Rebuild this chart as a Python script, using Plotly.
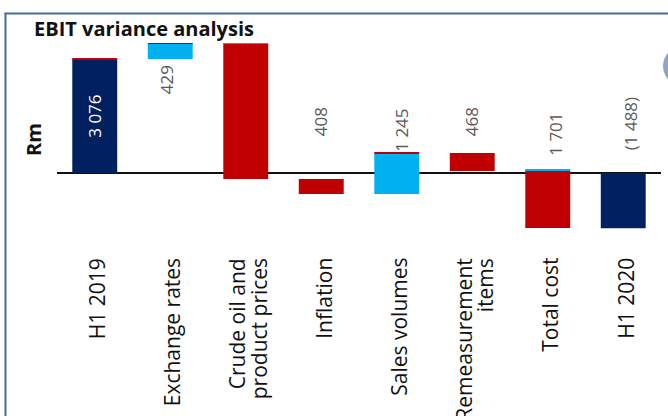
import plotly.graph_objects as go

# ---- data ----
categories = ["H1 2019", "Exchange rates", "Crude oil and product prices", "Inflation",
              "Sales volumes", "Remeasurement items", "Total cost", "H1 2020"]
category_lines = [["H1 2019"], ["Exchange rates"], ["Crude oil and", "product prices"], ["Inflation"],
                  ["Sales volumes"], ["Remeasurement", "items"], ["Total cost"], ["H1 2020"]]
bar_from = [0, 3076, 3505, -162, -570, 540, 81, 0]
bar_to = [3076, 3505, -162, -570, 540, 54, -1484, -1488]
bar_colors = ["#002060", "#00B0F0", "#C00000", "#C00000", "#00B0F0", "#C00000", "#C00000", "#002060"]
label_text = ["3 076", "429", "408", "1 245", "468", "1 701", "(1 488)"]
label_cat = [0, 1, 3, 4, 5, 6, 7]
label_y = [1538, 2509, 1376, 1160, 1376, 1052, 1322]
label_xshift = [0, -4, 0, 4, 0, 7, 8]
label_color = ["white", "#595959", "#595959", "#595959", "#595959", "#595959", "#595959"]
# thin edge slivers seen at some bar tops
sliver_cat = [0, 1, 2, 4, 6]
sliver_color = ["#C00000", "#C00000", "#00B0F0", "#C00000", "#00B0F0"]
sliver_h = 22

W, H = 668, 416
ML, MR, MT, MB = 57, 7, 20, 166
PW, PH = W - ML - MR, H - MT - MB

def px(x):
    return (x - ML) / PW

def py(y):
    return 1 - (y - MT) / PH

bases = [min(a, b) for a, b in zip(bar_from, bar_to)]
heights = [abs(b - a) for a, b in zip(bar_from, bar_to)]

fig = go.Figure()
fig.add_trace(go.Bar(x=categories, y=heights, base=bases, marker_color=bar_colors,
                     marker_line_width=0, hoverinfo="skip"))
s_tops = [max(bar_from[i], bar_to[i]) for i in sliver_cat]
fig.add_trace(go.Bar(x=[categories[i] for i in sliver_cat], y=[sliver_h] * len(sliver_cat),
                     base=[t - sliver_h for t in s_tops], marker_color=sliver_color,
                     marker_line_width=0, hoverinfo="skip"))

for t, c, yv, xs, col in zip(label_text, label_cat, label_y, label_xshift, label_color):
    fig.add_annotation(x=categories[c], y=yv, text=t, showarrow=False, textangle=-90,
                       xshift=xs, font=dict(family="Open Sans", size=17, color=col))

# category labels (rotated, top-aligned just under the plot)
line_gap = 22
for cat, lines in zip(categories, category_lines):
    n = len(lines)
    for k, ln in enumerate(lines):
        shift = 2 + (k - (n - 1) / 2) * line_gap
        fig.add_annotation(x=cat, xref="x", yref="paper", y=py(256), yanchor="top",
                           xanchor="center", text=ln, textangle=-90, showarrow=False,
                           xshift=shift, font=dict(family="Open Sans", size=21, color="#111111"))

fig.add_annotation(xref="paper", yref="paper", x=px(32), y=py(13), xanchor="left", yanchor="top",
                   text="<b>EBIT variance analysis</b>", showarrow=False,
                   font=dict(family="Open Sans", size=20, color="#111111"))
fig.add_annotation(xref="paper", yref="paper", x=px(33), y=py(140), xanchor="center", yanchor="middle",
                   text="<b>Rm</b>", textangle=-90, showarrow=False,
                   font=dict(family="Open Sans", size=20, color="#111111"))

border = "#4A6B94"
fig.add_shape(type="line", xref="paper", yref="paper", x0=px(5.5), x1=px(5.5), y0=py(13), y1=py(420),
              line=dict(color=border, width=2))
fig.add_shape(type="line", xref="paper", yref="paper", x0=px(4.5), x1=px(670), y0=py(13.5), y1=py(13.5),
              line=dict(color=border, width=2))
fig.add_shape(type="circle", xref="paper", yref="paper", x0=px(663), x1=px(703), y0=py(46), y1=py(86),
              fillcolor="#8EA6C2", line_width=0)

fig.update_layout(
    width=W, height=H, margin=dict(l=ML, r=MR, t=MT, b=MB),
    paper_bgcolor="white", plot_bgcolor="white", showlegend=False,
    barmode="overlay", bargap=0.405,
    font=dict(family="Open Sans", color="#111111"),
)
fig.update_xaxes(showticklabels=False, showgrid=False, showline=False, ticks="", range=[-0.5, 7.5])
fig.update_yaxes(range=[-2078, 4128], showticklabels=False, showgrid=False,
                 zeroline=True, zerolinecolor="#111111", zerolinewidth=2)

fig.write_html("out.html")
